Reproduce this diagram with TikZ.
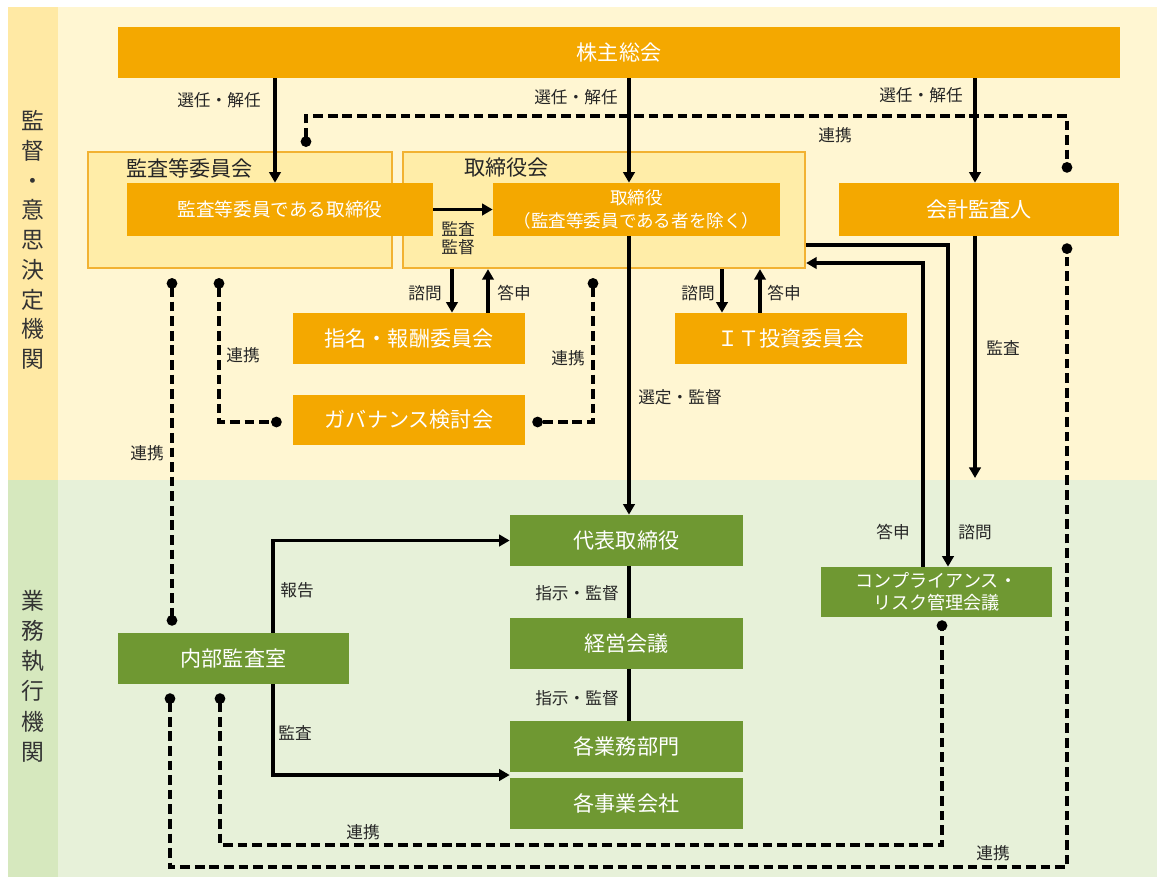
\documentclass[tikz,border=0pt]{standalone}
\usepackage{fontspec}
\setmainfont{Noto Sans CJK JP}
\usetikzlibrary{arrows.meta,calc}
\definecolor{orgbox}{HTML}{F4A800}
\definecolor{grnbox}{HTML}{6F9832}
\definecolor{grpfill}{HTML}{FFEDA8}
\definecolor{grpline}{HTML}{F2B232}
\definecolor{bgyel}{HTML}{FFF6D2}
\definecolor{sideyel}{HTML}{FFE9A4}
\definecolor{bggrn}{HTML}{E7F1D9}
\definecolor{sidegrn}{HTML}{D6E8BE}
\begin{document}
\begin{tikzpicture}[x=0.02cm,y=-0.02cm,
    obox/.style={fill=orgbox,text=white,font=\fontsize{12}{14}\selectfont,
      minimum height=1.02cm,inner sep=0pt,align=center},
    gbox/.style={obox,fill=grnbox},
    grp/.style={fill=grpfill,draw=grpline,line width=1.3pt,inner sep=0pt,
      minimum height=2.32cm},
    grptitle/.style={anchor=west,font=\fontsize{12}{14}\selectfont,text=black!85},
    lbl/.style={font=\fontsize{9.5}{11.5}\selectfont,text=black!85,inner sep=1pt},
    side/.style={align=center,text=black!80},
    arr/.style={line width=1.8pt,-{Triangle[length=6pt,width=6.5pt]}},
    plain/.style={line width=1.8pt},
    link/.style={line width=1.8pt,dash pattern=on 5.5pt off 2.8pt,
      {Circle[length=6pt]}-{Circle[length=6pt]}}]
  \useasboundingbox (0,0) rectangle (1157,877);
  \fill[white] (0,0) rectangle (1157,877);
  \fill[sideyel] (8,7) rectangle (58,480);
  \fill[bgyel] (58,7) rectangle (1157,480);
  \fill[sidegrn] (8,480) rectangle (58,877);
  \fill[bggrn] (58,480) rectangle (1157,877);

  \node[side,font=\fontsize{13}{16.9}\selectfont] (sideA) at (33,240)
    {監\\督\\・\\意\\思\\決\\定\\機\\関};
  \node[side,font=\fontsize{13}{17.2}\selectfont] (sideB) at (33,676)
    {業\\務\\執\\行\\機\\関};

  \node[obox,minimum width=20.04cm] (soukai) at (619,52.5) {株主総会};
  \node[grp,minimum width=6.08cm] (kansaG) at (240,210) {};
  \node[grp,minimum width=8.04cm] (torishG) at (604,210) {};
  \node[grptitle] (kansaGt) at (120,168) {監査等委員会};
  \node[grptitle] (torishGt) at (458,168) {取締役会};
  \node[obox,minimum width=6.12cm,minimum height=1.06cm,
    font=\fontsize{10.6}{13}\selectfont] (kansaT) at (280,209.5) {監査等委員である取締役};
  \node[obox,minimum width=5.74cm,minimum height=1.06cm,
    font=\fontsize{10}{13.2}\selectfont] (torishT) at (636.5,209.5)
    {取締役\\（監査等委員である者を除く）};
  \node[obox,minimum width=5.6cm,minimum height=1.06cm] (kaikei) at (979,209.5) {会計監査人};
  \node[obox,minimum width=4.64cm] (shimei) at (409,338.5) {指名・報酬委員会};
  \node[obox,minimum width=4.64cm,minimum height=1cm] (gov) at (409,420) {ガバナンス検討会};
  \node[obox,minimum width=4.64cm] (it) at (791,338.5) {ＩＴ投資委員会};

  \node[gbox,minimum width=4.66cm] (daihyo) at (626.5,540.5) {代表取締役};
  \node[gbox,minimum width=4.66cm] (keiei) at (626.5,643.5) {経営会議};
  \node[gbox,minimum width=4.66cm] (gyomu) at (626.5,746.5) {各業務部門};
  \node[gbox,minimum width=4.66cm] (jigyo) at (626.5,803.5) {各事業会社};
  \node[gbox,minimum width=4.62cm] (naibu) at (233.5,658.5) {内部監査室};
  \node[gbox,minimum width=4.62cm,minimum height=1cm,
    font=\fontsize{10.3}{12.5}\selectfont] (comp) at (936.5,592)
    {コンプライアンス・\\リスク管理会議};

  \coordinate (audend) at (975,478);

  \draw[arr] (soukai.south -| 275,0) -- (kansaT.north -| 275,0);
  \draw[arr] (soukai.south -| 629,0) -- (torishT.north -| 629,0);
  \draw[arr] (soukai.south -| 975,0) -- (kaikei.north -| 975,0);
  \draw[arr] (kansaT.east) -- (torishT.west);
  \draw[arr] (torishG.south -| 452,0) -- (shimei.north -| 452,0);
  \draw[arr] (shimei.north -| 488,0) -- (torishG.south -| 488,0);
  \draw[arr] (torishG.south -| 722,0) -- (it.north -| 722,0);
  \draw[arr] (it.north -| 760,0) -- (torishG.south -| 760,0);
  \draw[arr] (torishT.south -| 629,0) -- (daihyo.north -| 629,0);
  \draw[arr] (torishG.east |- 0,245) -| (comp.north -| 948,0);
  \draw[arr] (comp.north -| 923,0) |- (torishG.east |- 0,263);
  \draw[arr] (kaikei.south -| 975,0) -- (audend);
  \draw[arr] (naibu.north -| 273,0) |- (daihyo.west);
  \draw[arr] (naibu.south -| 273,0) |- ($(gyomu.south west)!0.5!(jigyo.north west)$);
  \draw[plain] (daihyo.south -| 629,0) -- (keiei.north -| 629,0);
  \draw[plain] (keiei.south -| 629,0) -- (gyomu.north -| 629,0);

  \draw[link] ($(kansaG.north -| 306,0)+(0,-4)$) -- (306,116) -- (1067,116)
    -- ($(kaikei.north -| 1067,0)+(0,-10)$);
  \draw[link] ($(naibu.south -| 170,0)+(0,9)$) -- (170,867) -- (1067,867)
    -- ($(kaikei.south -| 1067,0)+(0,7)$);
  \draw[link] ($(naibu.south -| 220,0)+(0,9)$) -- (220,845) -- (942,845)
    -- ($(comp.south -| 942,0)+(0,3)$);
  \draw[link] ($(kansaG.south -| 172,0)+(0,9)$) -- ($(naibu.north -| 172,0)+(0,-7)$);
  \draw[link] ($(kansaG.south -| 219,0)+(0,9)$) |- ($(gov.west)+(-11,2)$);
  \draw[link] ($(torishG.south -| 593,0)+(0,9)$) |- ($(gov.east)+(7,2)$);

  \node[lbl] (l1) at (219,100) {選任・解任};
  \node[lbl] (l2) at (576,97) {選任・解任};
  \node[lbl] (l3) at (921,95) {選任・解任};
  \node[lbl] (l4) at (835,135) {連携};
  \node[lbl,align=center,font=\fontsize{9.5}{10.5}\selectfont] (l5) at (458,238) {監査\\監督};
  \node[lbl] (l6) at (425,293) {諮問};
  \node[lbl] (l7) at (514,293) {答申};
  \node[lbl] (l8) at (698,293) {諮問};
  \node[lbl] (l9) at (784,293) {答申};
  \node[lbl] (l10) at (243,355) {連携};
  \node[lbl] (l11) at (568,358) {連携};
  \node[lbl] (l12) at (147,453) {連携};
  \node[lbl] (l13) at (680,397) {選定・監督};
  \node[lbl] (l14) at (1003,348) {監査};
  \node[lbl] (l15) at (893,532) {答申};
  \node[lbl] (l16) at (975,532) {諮問};
  \node[lbl] (l17) at (297,590) {報告};
  \node[lbl] (l18) at (295,733) {監査};
  \node[lbl] (l19) at (577,593) {指示・監督};
  \node[lbl] (l20) at (577,698) {指示・監督};
  \node[lbl] (l21) at (363,832) {連携};
  \node[lbl] (l22) at (993,853) {連携};
\end{tikzpicture}
\end{document}
